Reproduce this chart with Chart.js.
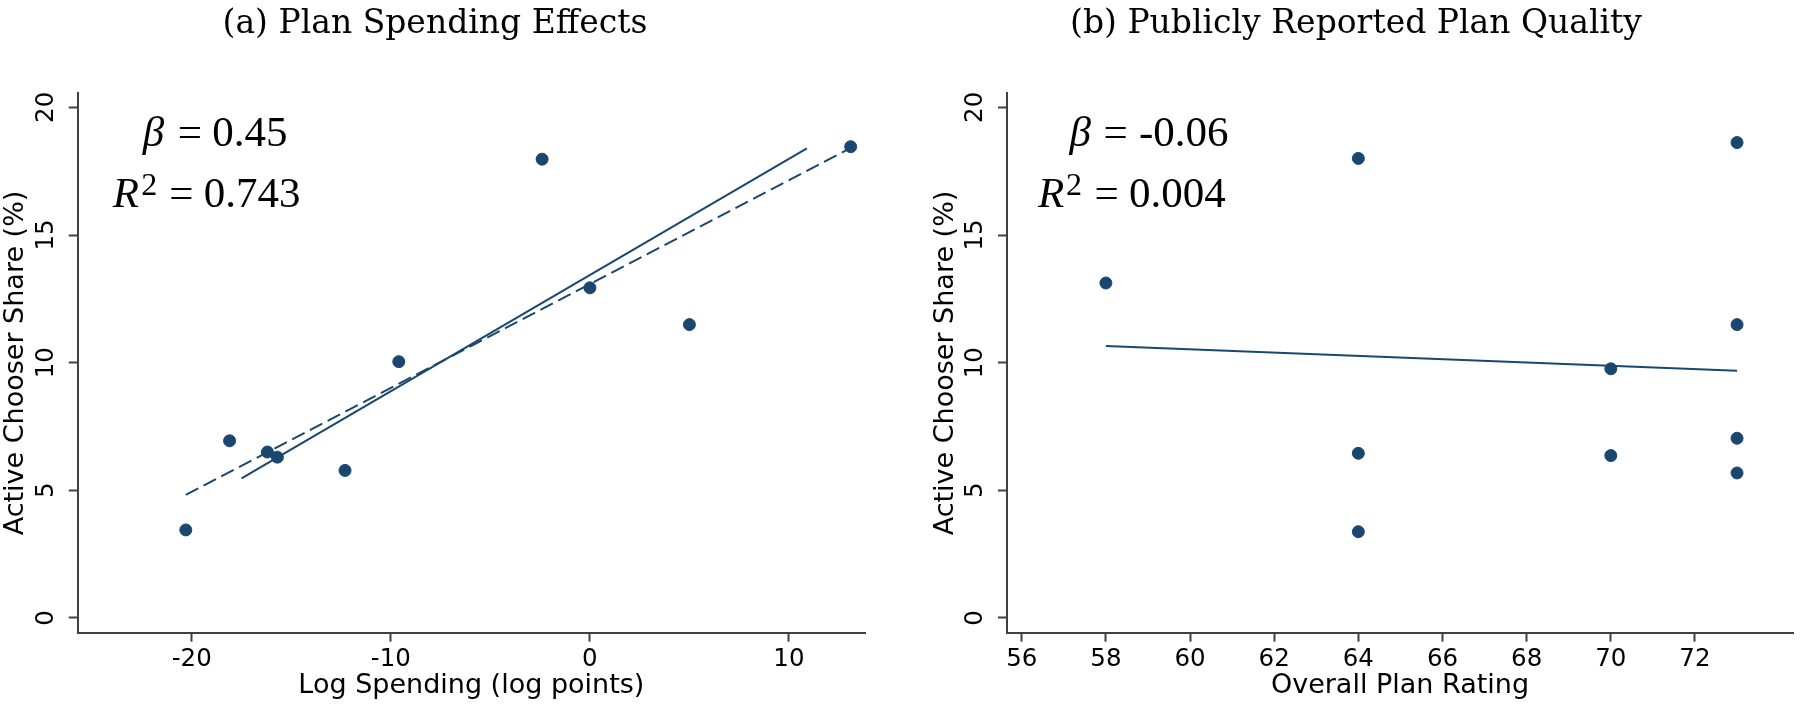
<!DOCTYPE html>
<html>
<head>
<meta charset="utf-8">
<script src="https://cdn.jsdelivr.net/npm/chart.js@4.4.1/dist/chart.umd.min.js"></script>
<style>
  html, body { margin: 0; padding: 0; background: #ffffff; }
  #wrap { position: relative; width: 1800px; height: 706px; background: #ffffff; overflow: hidden; }
  .panel { position: absolute; top: 0; width: 900px; height: 706px; }
  .panel canvas { display: block; }
</style>
</head>
<body>
<div id="wrap">
  <div class="panel" style="left:0px"><canvas id="chartA" width="900" height="706"></canvas></div>
  <div class="panel" style="left:900px"><canvas id="chartB" width="900" height="706"></canvas></div>
</div>
<script>
// ---------- Data ----------
// Panel (a): Plan Spending Effects
const spendX = [-20.3, -18.1, -16.2, -15.7, -12.3, -9.6, -2.4, 0.0, 5.0, 13.1];
const spendY = [3.45, 6.94, 6.50, 6.30, 5.78, 10.04, 17.97, 12.93, 11.49, 18.46];
const spendFitX = [-17.5, 10.9];
const spendFitY = [5.47, 18.39];
const spendDashX = [-20.3, 13.1];
const spendDashY = [4.82, 18.41];
const spendTicks = [-20, -10, 0, 10];
const spendStats = ['0.45', '0.743'];

// Panel (b): Publicly Reported Plan Quality
const ratingX = [58, 64, 64, 64, 70, 70, 73, 73, 73, 73];
const ratingY = [13.12, 18.0, 6.45, 3.38, 9.76, 6.36, 18.62, 11.49, 7.04, 5.68];
const ratingFitX = [58, 73];
const ratingFitY = [10.65, 9.68];
const ratingTicks = [56, 58, 60, 62, 64, 66, 68, 70, 72];
const ratingStats = ['-0.06', '0.004'];

const shareTicks = [0, 5, 10, 15, 20];

// ---------- Styles ----------
const NAVY = 'rgb(26,71,111)';
const AXIS = '#404040';
const SANS = '"DejaVu Sans", Verdana, sans-serif';
const SERIF = '"Liberation Serif", "Times New Roman", serif';

const pts = (xs, ys) => xs.map((x, i) => ({ x: x, y: ys[i] }));

const statPlugin = {
  id: 'statText',
  afterDatasetsDraw(chart, args, opts) {
    const { ctx, chartArea } = chart;
    ctx.save();
    ctx.fillStyle = '#000';
    ctx.textBaseline = 'alphabetic';
    ctx.textAlign = 'left';
    (opts.items || []).forEach(it => {
      ctx.font = it.font;
      ctx.fillText(it.text, chartArea.left + it.dx, chartArea.top + it.dy);
    });
    ctx.restore();
  }
};

function statItems(vals, o) {
  const big = '43px ' + SERIF, it = 'italic 43px ' + SERIF, sup = '32px ' + SERIF;
  return [
    { text: '\u03B2', font: it, dx: o.b, dy: 52.4 },
    { text: '=', font: big, dx: o.be, dy: 52.4 },
    { text: vals[0], font: big, dx: o.bv, dy: 52.4 },
    { text: 'R', font: it, dx: o.r, dy: 113.4 },
    { text: '2', font: sup, dx: o.r2, dy: 102 },
    { text: '=', font: big, dx: o.re, dy: 113.4 },
    { text: vals[1], font: big, dx: o.rv, dy: 113.4 }
  ];
}

function makeChart(id, cfg) {
  const tickFont = { family: SANS, size: 24.5 };
  const titleFont = { family: SANS, size: 27 };
  return new Chart(document.getElementById(id), {
    type: 'scatter',
    data: {
      datasets: [
        {
          data: pts(cfg.px, cfg.py),
          backgroundColor: NAVY, borderColor: NAVY,
          pointRadius: 6, pointBorderWidth: 1, pointHoverRadius: 6, showLine: false
        },
        ...cfg.lines.map(l => ({
          data: pts(l.x, l.y),
          showLine: true, borderColor: NAVY, borderWidth: 2,
          borderDash: l.dash || [], pointRadius: 0, fill: false
        }))
      ]
    },
    plugins: [statPlugin],
    options: {
      responsive: false,
      devicePixelRatio: 1,
      animation: false,
      events: [],
      layout: { padding: { left: cfg.padL, right: cfg.padR, top: 0, bottom: 0 } },
      plugins: {
        legend: { display: false },
        tooltip: { enabled: false },
        title: {
          display: true, text: cfg.title, color: '#000',
          font: { family: '"DejaVu Serif", serif', size: 33, weight: 'normal' },
          padding: { top: 4.2, bottom: 49.5 }
        },
        statText: { items: cfg.stats }
      },
      scales: {
        x: {
          type: 'linear', position: 'bottom',
          min: cfg.xmin, max: cfg.xmax,
          afterBuildTicks: s => { s.ticks = cfg.xticks.map(v => ({ value: v })); },
          afterFit: s => { s.height = 73.3; },
          ticks: { font: tickFont, color: '#000', padding: 3, maxRotation: 0, autoSkip: false,
                   callback: v => String(v) },
          grid: { display: true, drawOnChartArea: false, drawTicks: true, tickLength: 9,
                  tickWidth: 2, tickColor: AXIS, color: AXIS },
          border: { display: true, color: AXIS, width: 2 },
          title: { display: true, text: cfg.xtitle, color: '#000', font: titleFont,
                   padding: { top: 0, bottom: 4 } }
        },
        y: {
          type: 'linear', position: 'left',
          min: -0.576, max: 20.55,
          afterBuildTicks: s => { s.ticks = shareTicks.map(v => ({ value: v })); },
          afterFit: s => { s.width = cfg.yw; },
          ticks: { font: tickFont, color: '#000', padding: 6.5, minRotation: 90, maxRotation: 90,
                   crossAlign: 'center', autoSkip: false, callback: v => String(v) },
          grid: { display: true, drawOnChartArea: false, drawTicks: true, tickLength: 9,
                  tickWidth: 2, tickColor: AXIS, color: AXIS },
          border: { display: true, color: AXIS, width: 2 },
          title: { display: true, text: 'Active Chooser Share (%)', color: '#000', font: titleFont,
                   padding: { top: cfg.ytp, bottom: 0 } }
        }
      }
    }
  });
}

makeChart('chartA', {
  title: '(a) Plan Spending Effects',
  xtitle: 'Log Spending (log points)',
  px: spendX, py: spendY,
  lines: [
    { x: spendFitX, y: spendFitY },
    { x: spendDashX, y: spendDashY, dash: [14, 6] }
  ],
  xmin: -25.73, xmax: 13.82, xticks: spendTicks,
  padL: 5, padR: 35, yw: 72.7, ytp: -5,
  stats: statItems(spendStats, { b: 65, be: 100, bv: 134.5, r: 35, r2: 63.5, re: 91.5, rv: 126 })
});

makeChart('chartB', {
  title: '(b) Publicly Reported Plan Quality',
  xtitle: 'Overall Plan Rating',
  px: ratingX, py: ratingY,
  lines: [ { x: ratingFitX, y: ratingFitY } ],
  xmin: 55.65, xmax: 74.33, xticks: ratingTicks,
  padL: 17.7, padR: 5.7, yw: 89.3, ytp: 12.1,
  stats: statItems(ratingStats, { b: 62.5, be: 96.5, bv: 132, r: 31, r2: 59, re: 87.5, rv: 122 })
});
</script>
</body>
</html>
